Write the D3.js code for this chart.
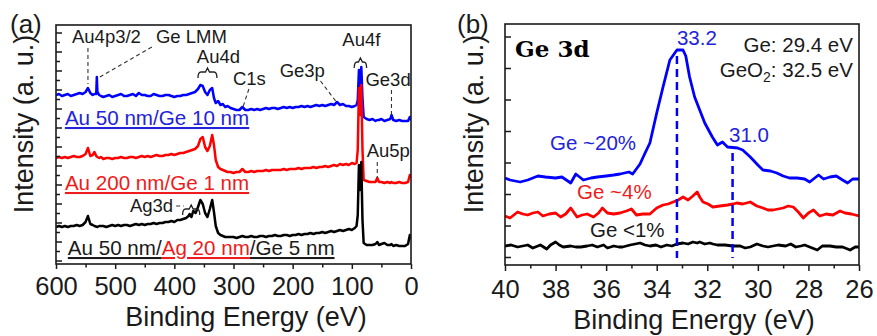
<!DOCTYPE html>
<html><head><meta charset="utf-8">
<script src="https://cdn.jsdelivr.net/npm/d3@7"></script>
<style>
body{margin:0;background:#fff;}
svg{display:block;font-family:"Liberation Sans",Arial,Helvetica,sans-serif;}
</style></head><body>
<svg id="chart" width="877" height="336"></svg>
<script>
// ---------- Panel (a): survey spectra [binding energy eV, intensity a.u.] ----------
const surveyBlue = [[600,169],[595,170],[590,168],[585,169],[580,170],[575,168],[570,169],[565,170],[560,171],[555,170],[550,172],[546,176],[542,171],[538,169],[535,170],[532,170],[531,187],[530,172],[527,169],[524,168],[520,167],[515,168],[510,169],[505,167],[500,168],[495,169],[490,170],[485,168],[480,168],[475,169],[470,170],[465,168],[460,171],[455,169],[450,169],[445,168],[440,168],[435,170],[430,169],[425,168],[420,168],[415,169],[410,169],[405,168],[400,167],[395,168],[390,168],[385,169],[380,169],[375,170],[370,171],[365,172],[360,175],[356,179],[352,178],[348,172],[344,169],[340,174],[336,176],[333,166],[330,161],[326,163],[322,159],[318,160],[314,157],[310,158],[305,156],[300,155],[295,154],[290,154],[285,157],[280,154],[275,154],[270,155],[265,154],[260,155],[255,154],[250,155],[245,156],[240,155],[235,156],[230,156],[225,155],[220,156],[215,157],[210,156],[205,157],[200,156],[195,157],[190,157],[185,158],[180,157],[175,158],[170,157],[165,158],[160,159],[155,158],[150,159],[145,158],[140,159],[135,160],[130,159],[125,162],[120,159],[115,160],[110,158],[105,158],[100,157],[95,158],[92,159],[90,164],[88,194],[86,172],[84,197],[82,166],[80,147],[75,145],[70,144],[65,145],[60,143],[57,144],[54,144],[50,145],[45,143],[40,144],[35,145],[33,149],[30,144],[25,143],[20,144],[15,143],[10,143],[5,143],[2,147],[0,144]];
const surveyRed = [[600,106],[595,107],[590,106],[585,107],[580,106],[575,107],[570,108],[565,107],[560,107],[555,108],[550,110],[546,116],[542,108],[538,109],[535,112],[532,108],[530,107],[527,106],[524,107],[520,105],[515,106],[510,106],[505,105],[500,106],[495,106],[490,107],[485,106],[480,106],[475,107],[470,107],[465,106],[460,107],[455,108],[450,107],[445,108],[440,107],[435,108],[430,109],[425,108],[420,108],[415,109],[410,109],[405,110],[400,109],[395,110],[390,111],[385,111],[380,112],[375,113],[370,114],[365,115],[360,118],[356,125],[352,127],[348,117],[344,113],[340,118],[336,129],[333,119],[330,104],[326,97],[322,95],[318,94],[314,93],[310,92],[305,92],[300,91],[295,92],[290,92],[285,95],[280,92],[275,92],[270,93],[265,92],[260,93],[255,93],[250,93],[245,94],[240,93],[235,94],[230,94],[225,94],[220,94],[215,95],[210,94],[205,95],[200,95],[195,95],[190,96],[185,95],[180,96],[175,96],[170,96],[165,97],[160,96],[155,97],[150,97],[145,98],[140,97],[135,98],[130,99],[125,98],[120,100],[115,99],[110,100],[105,99],[100,101],[95,100],[92,101],[90,114],[88,176],[86,149],[84,179],[82,114],[80,84],[75,83],[70,82],[65,82],[60,82],[57,86],[54,82],[50,82],[45,81],[40,82],[35,81],[33,82],[30,81],[25,81],[20,82],[15,81],[10,81],[5,82],[2,89],[0,86]];
const surveyBlack = [[600,37],[595,38],[590,37],[585,38],[580,37],[575,38],[570,38],[565,39],[560,38],[555,39],[550,42],[546,48],[542,40],[538,39],[535,38],[530,37],[527,38],[524,38],[520,38],[515,37],[510,38],[505,39],[500,38],[495,39],[490,38],[485,39],[480,39],[475,38],[470,39],[465,40],[460,39],[455,40],[450,39],[445,40],[440,40],[435,41],[430,40],[425,41],[420,41],[415,42],[410,42],[405,43],[400,42],[395,44],[390,44],[385,45],[380,46],[376,48],[374,50],[371,47],[368,53],[364,51],[360,57],[356,64],[352,60],[348,51],[344,47],[340,55],[336,64],[333,52],[330,38],[326,31],[322,29],[318,28],[314,27],[310,27],[305,27],[300,27],[295,26],[290,27],[285,28],[280,27],[275,27],[270,28],[265,27],[260,27],[255,28],[250,28],[245,27],[240,28],[235,28],[230,29],[225,28],[220,28],[215,29],[210,29],[205,28],[200,29],[195,29],[190,30],[185,29],[180,30],[175,30],[170,31],[165,30],[160,31],[155,31],[150,32],[145,31],[140,32],[135,33],[130,32],[125,33],[120,34],[115,33],[110,34],[105,35],[100,34],[95,36],[92,38],[90,49],[88,99],[86,74],[84,102],[82,44],[80,21],[75,19],[70,19],[65,19],[60,20],[57,22],[54,19],[50,20],[45,21],[40,19],[35,19],[33,20],[30,18],[25,19],[20,18],[15,18],[10,18],[5,20],[2,29],[0,25]];

// ---------- Panel (b): Ge 3d spectra [binding energy eV, intensity a.u.] ----------
const ge3dBlue = [[40,87],[39.8,85],[39.4,83],[39.1,85],[38.7,89],[38.4,88],[38.0,87],[37.75,88],[37.4,82],[37.2,91],[36.9,85],[36.6,87],[36.35,88],[36.0,89],[35.7,90],[35.45,91],[35.1,93],[34.95,91],[34.66,101],[34.46,112],[34.27,122],[34.0,152],[33.75,178],[33.48,205],[33.2,215],[32.96,215],[32.85,209],[32.7,188],[32.5,168],[32.3,155],[32.1,142],[31.8,128],[31.6,120],[31.4,123],[31.2,118],[30.8,117],[30.6,115],[30.3,108],[30.0,100],[29.8,95],[29.5,94],[29.25,92],[29.0,89],[28.75,87],[28.45,87],[28.15,86],[27.95,83],[27.8,86],[27.6,90],[27.4,86],[27.15,88],[26.9,89],[26.65,85],[26.45,82],[26.25,86],[26.0,86]];
const ge3dRed = [[40,49],[39.8,47],[39.5,53],[39.3,51],[39.1,50],[38.9,52],[38.7,53],[38.5,49],[38.25,51],[38.0,52],[37.8,48],[37.6,51],[37.4,57],[37.15,48],[36.95,50],[36.75,51],[36.5,48],[36.3,52],[36.15,57],[35.95,52],[35.7,51],[35.45,52],[35.2,54],[35.0,56],[34.8,50],[34.55,51],[34.27,51],[34.0,57],[33.75,60],[33.55,61],[33.35,63],[33.15,65],[32.96,68],[32.76,65],[32.57,69],[32.4,73],[32.3,68],[32.17,63],[31.97,61],[31.78,58],[31.5,59],[31.2,60],[30.98,61],[30.83,62],[30.6,61],[30.3,63],[30.04,59],[29.8,57],[29.6,55],[29.4,55],[29.2,56],[29.0,57],[28.8,59],[28.6,58],[28.4,53],[28.2,47],[28.0,52],[27.8,55],[27.6,50],[27.55,49],[27.3,51],[27.03,50],[26.75,54],[26.55,52],[26.3,51],[26.0,49]];
const ge3dBlack = [[40,19],[39.76,20],[39.5,18],[39.3,19],[39.1,20],[38.9,17],[38.6,20],[38.35,16],[38.2,20],[38.0,23],[37.85,20],[37.7,18],[37.4,19],[37.2,18],[37.0,18],[36.75,19],[36.55,20],[36.35,18],[36.1,20],[35.95,17],[35.7,19],[35.5,18],[35.35,18],[35.05,20],[34.85,21],[34.66,22],[34.46,20],[34.27,19],[34.03,20],[33.83,18],[33.6,20],[33.4,19],[33.2,21],[32.96,22],[32.76,21],[32.57,23],[32.4,22],[32.3,23],[32.1,21],[31.9,22],[31.78,21],[31.6,20],[31.3,20],[31.0,19],[30.7,19],[30.5,17],[30.3,18],[30.04,21],[29.8,19],[29.6,18],[29.4,19],[29.2,20],[28.9,19],[28.7,21],[28.5,18],[28.3,19],[28.15,20],[27.95,18],[27.65,15],[27.45,19],[27.15,19],[26.9,18],[26.65,18],[26.35,15],[26.15,18],[26.0,18]];

// ---------- Ticks and labels ----------
const xTicksA = [600,500,400,300,200,100,0];
const xMinorA = [550,450,350,250,150,50];
const xTicksB = [40,38,36,34,32,30,28,26];
const xMinorB = [39,37,35,33,31,29,27];
const peakMarks = [33.2, 31.0];
const sampleLabels = ["Au 50 nm/Ge 10 nm","Au 200 nm/Ge 1 nm"];
const geLabels = ["Ge ~20%","Ge ~4%","Ge <1%"];

const BLUE = "#0000ff", RED = "#ff0000", BLACK = "#000000";
const TBLUE = "#2323dc", TRED = "#ee1c1c", INK = "#1a1a1a";

const svg = d3.select("#chart");
const A = {l:56, r:411, t:25, b:264};
const B = {l:505, r:859, t:24, b:265};
const xA = d3.scaleLinear().domain([600,0]).range([A.l,A.r]);
const yA = d3.scaleLinear().domain([0,239]).range([A.b,A.t]);
const xB = d3.scaleLinear().domain([40,26]).range([B.l,B.r]);
const yB = d3.scaleLinear().domain([0,241]).range([B.b,B.t]);

const defs = svg.append("defs");
defs.append("clipPath").attr("id","clipA").append("rect").attr("x",A.l).attr("y",A.t).attr("width",A.r-A.l).attr("height",A.b-A.t);
defs.append("clipPath").attr("id","clipB").append("rect").attr("x",B.l).attr("y",B.t).attr("width",B.r-B.l).attr("height",B.b-B.t);

// ---------- Panel (a) lines ----------
const lineA = d3.line().x(d=>xA(d[0])).y(d=>yA(d[1]));
const gA = svg.append("g").attr("clip-path","url(#clipA)");
[[surveyBlue,BLUE],[surveyRed,RED],[surveyBlack,BLACK]].forEach(([data,c])=>{
  gA.append("path").datum(data).attr("d",lineA).attr("fill","none")
    .attr("stroke",c).attr("stroke-width",2.5).attr("stroke-linejoin","round");
});

// ---------- Panel (b) lines ----------
const lineB = d3.line().x(d=>xB(d[0])).y(d=>yB(d[1]));
const gB = svg.append("g").attr("clip-path","url(#clipB)");
[[ge3dBlack,BLACK],[ge3dRed,RED],[ge3dBlue,BLUE]].forEach(([data,c])=>{
  gB.append("path").datum(data).attr("d",lineB).attr("fill","none")
    .attr("stroke",c).attr("stroke-width",2.8).attr("stroke-linejoin","round");
});
// dashed peak markers
peakMarks.forEach(e=>{
  const top = d3.max(ge3dBlue.filter(d=>Math.abs(d[0]-e)<0.25), d=>d[1]);
  gB.append("line").attr("x1",xB(e)).attr("x2",xB(e))
    .attr("y1",yB(top-6)).attr("y2",yB(7))
    .attr("stroke",BLUE).attr("stroke-width",2.5).attr("stroke-dasharray","8,5");
});

// ---------- Axes ----------
function styleAxis(g){
  g.select(".domain").remove();
  g.selectAll("line").attr("stroke",INK).attr("stroke-width",1.5);
  g.selectAll("text").attr("fill",INK).style("font-size","25.5px");
}
svg.append("g").attr("transform",`translate(0,${A.b})`)
  .call(d3.axisBottom(xA).tickValues(xTicksA).tickFormat(d3.format("d")).tickSize(5).tickSizeOuter(0))
  .call(styleAxis).call(g=>g.selectAll("text").attr("y",31).attr("dy",0));
svg.append("g").attr("transform",`translate(0,${A.b})`)
  .call(d3.axisBottom(xA).tickValues(xMinorA).tickFormat("").tickSize(3.5).tickSizeOuter(0)).call(styleAxis);
const yTicksA = d3.range(0,25).map(i=>3.5+9.5*i);
svg.append("g").attr("transform",`translate(${A.l},0)`)
  .call(d3.axisRight(yA).tickValues(yTicksA.filter((d,i)=>i%2===0)).tickFormat("").tickSize(6).tickSizeOuter(0)).call(styleAxis);
svg.append("g").attr("transform",`translate(${A.l},0)`)
  .call(d3.axisRight(yA).tickValues(yTicksA.filter((d,i)=>i%2===1)).tickFormat("").tickSize(4).tickSizeOuter(0)).call(styleAxis);
svg.append("g").attr("transform",`translate(0,${B.b})`)
  .call(d3.axisBottom(xB).tickValues(xTicksB).tickFormat(d3.format("d")).tickSize(6).tickSizeOuter(0))
  .call(styleAxis).call(g=>g.selectAll("text").attr("y",33).attr("dy",0));
svg.append("g").attr("transform",`translate(0,${B.b})`)
  .call(d3.axisBottom(xB).tickValues(xMinorB).tickFormat("").tickSize(3.5).tickSizeOuter(0)).call(styleAxis);
const yTicksB = d3.range(0,8).map(i=>8+31.5*i);
svg.append("g").attr("transform",`translate(${B.l},0)`)
  .call(d3.axisRight(yB).tickValues(yTicksB).tickFormat("").tickSize(6).tickSizeOuter(0)).call(styleAxis);

[A,B].forEach(P=>{
  svg.append("rect").attr("x",P.l).attr("y",P.t).attr("width",P.r-P.l).attr("height",P.b-P.t)
    .attr("fill","none").attr("stroke",INK).attr("stroke-width",1.6);
});

// ---------- Titles ----------
function txt(x,y,s,size,fill,anchor){
  return svg.append("text").attr("x",x).attr("y",y).text(s)
    .style("font-size",size+"px").attr("fill",fill||INK).attr("text-anchor",anchor||"start");
}
txt(10,33,"(a)",26);
txt(457,33,"(b)",26);
txt(246,326,"Binding Energy (eV)",27,INK,"middle");
txt(694,329,"Binding Energy (eV)",27,INK,"middle");
[33,483].forEach(bx=>{
  svg.append("text").attr("transform",`translate(${bx},124) rotate(-90)`)
    .attr("text-anchor","middle").style("font-size","27px").attr("fill",INK).text("Intensity (a. u.)");
});

// ---------- Panel (a) annotations ----------
const ann = svg.append("g");
const aText = (e,v,s)=>ann.append("text").attr("x",xA(e)).attr("y",yA(v)).text(s).style("font-size","18.5px").attr("fill",INK);
const aDash = (e1,v1,e2,v2)=>ann.append("line").attr("x1",xA(e1)).attr("y1",yA(v1)).attr("x2",xA(e2)).attr("y2",yA(v2))
  .attr("stroke","#333").attr("stroke-width",1.1).attr("stroke-dasharray","4,3");
const aBrace = (e1,e2,v)=>{
  const x1=xA(e1), x2=xA(e2), y=yA(v), xm=(x1+x2)/2;
  ann.append("path").attr("d",`M${x1},${y+6} Q${x1},${y} ${x1+3},${y} L${xm-2},${y} L${xm},${y-4} L${xm+2},${y} L${x2-3},${y} Q${x2},${y} ${x2},${y+6}`)
    .attr("fill","none").attr("stroke","#222").attr("stroke-width",1.3);
};
aText(573,221,"Au4p3/2"); aDash(546,216,546,180);
aText(431,221,"Ge LMM"); aDash(438,217,529,186);
aText(362,201,"Au4d"); aBrace(360,328,192);
aText(301,179,"C1s"); aDash(274,175,284,157);
aText(222,187,"Ge3p"); aDash(153,183,126,162);
aText(116,218,"Au4f"); aBrace(96,75,202);
aText(77,178,"Ge3d"); aDash(33,174,33,149);
aText(75,107,"Au5p"); aDash(57,102,57,86);
aText(475,52,"Ag3d"); aDash(397,58,384,58); aBrace(386,357,55);

function underlined(x,y,parts,size){
  const t = svg.append("text").attr("x",x).attr("y",y).style("font-size",size+"px");
  parts.forEach(([s,c])=>t.append("tspan").text(s).attr("fill",c).style("text-decoration","underline"));
  return t;
}
underlined(xA(585),yA(139),[[sampleLabels[0],TBLUE]],20.6);
underlined(xA(585),yA(74),[[sampleLabels[1],TRED]],20.6);
underlined(xA(580),yA(9),[["Au 50 nm/",INK],["Ag 20 nm",TRED],["/Ge 5 nm",INK]],20.6);

// ---------- Panel (b) annotations ----------
svg.append("text").attr("x",xB(39.6)).attr("y",yB(208)).text("Ge 3d")
  .style("font-family","'DejaVu Serif',serif").style("font-weight","bold").style("font-size","23px").attr("fill","#000");
const bText=(e,v,s,c,anchor)=>svg.append("text").attr("x",xB(e)).attr("y",yB(v)).text(s)
  .style("font-size","20.5px").attr("fill",c).attr("text-anchor",anchor||"start");
bText(33.2,220,"33.2",TBLUE);
bText(31.14,123,"31.0",TBLUE);
bText(26.24,213,"Ge: 29.4 eV",INK,"end");
const geo = svg.append("text").attr("x",xB(26.24)).attr("y",yB(188)).attr("text-anchor","end").style("font-size","20.5px").attr("fill",INK);
geo.append("tspan").text("GeO");
geo.append("tspan").text("2").attr("dy",5).style("font-size","14px");
geo.append("tspan").text(": 32.5 eV").attr("dy",-5);
bText(38.22,115,geLabels[0],TBLUE);
bText(37.15,66,geLabels[1],TRED);
bText(36.64,28,geLabels[2],INK);
</script>
</body></html>
